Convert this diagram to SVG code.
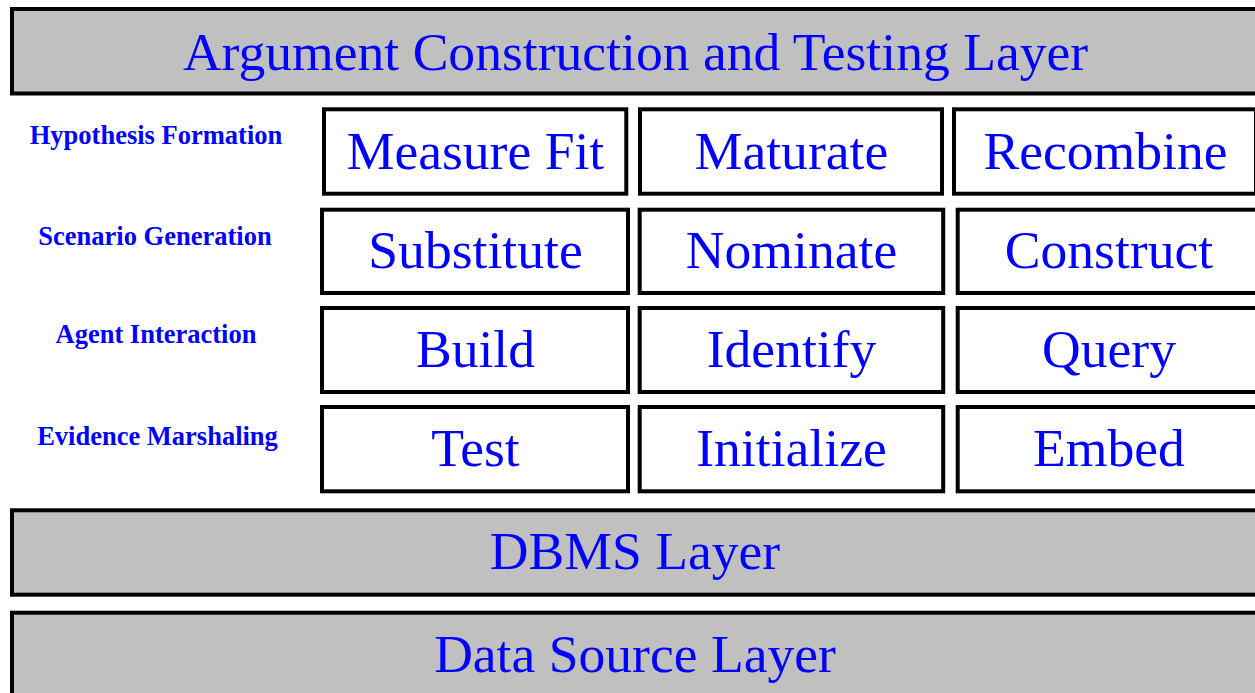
<svg xmlns="http://www.w3.org/2000/svg" width="1255" height="693" viewBox="0 0 1255 693">
<style>
.layer{fill:#c0c0c0;stroke:#000;stroke-width:4}
.cell{fill:#fff;stroke:#000;stroke-width:4}
.big{font-family:"Liberation Serif","Times New Roman",serif;font-size:53.6px;fill:#0000ff;text-anchor:middle}
.lbl{font-family:"Liberation Serif","Times New Roman",serif;font-size:26.5px;font-weight:bold;fill:#0000ff;text-anchor:middle}
</style>
<rect width="1255" height="693" fill="#fff"/>
<g id="layer-argument">
<rect class="layer" x="12" y="9" width="1260" height="84.5"/>
<text class="big" x="635.5" y="70">Argument Construction and Testing Layer</text>
</g>
<g id="label-hypothesis"><text class="lbl" x="156" y="144">Hypothesis Formation</text></g>
<g id="label-scenario"><text class="lbl" x="155" y="245">Scenario Generation</text></g>
<g id="label-agent"><text class="lbl" x="156" y="342.5">Agent Interaction</text></g>
<g id="label-evidence"><text class="lbl" x="157.5" y="445">Evidence Marshaling</text></g>
<g id="cell-measure-fit"><rect class="cell" x="324" y="109.3" width="302.3" height="84.4"/><text class="big" x="475.5" y="169">Measure Fit</text></g>
<g id="cell-maturate"><rect class="cell" x="640" y="109.3" width="302" height="84.4"/><text class="big" x="791.5" y="169">Maturate</text></g>
<g id="cell-recombine"><rect class="cell" x="954" y="109.3" width="302" height="84.4"/><text class="big" x="1105.5" y="169">Recombine</text></g>
<g id="cell-substitute"><rect class="cell" x="322" y="209.7" width="306" height="83.3"/><text class="big" x="475.5" y="268">Substitute</text></g>
<g id="cell-nominate"><rect class="cell" x="639.7" y="209.7" width="303.5" height="83.3"/><text class="big" x="791.5" y="268">Nominate</text></g>
<g id="cell-construct"><rect class="cell" x="957.7" y="209.7" width="302" height="83.3"/><text class="big" x="1109" y="268">Construct</text></g>
<g id="cell-build"><rect class="cell" x="322" y="308" width="306" height="84"/><text class="big" x="475.5" y="367.3">Build</text></g>
<g id="cell-identify"><rect class="cell" x="639.7" y="308" width="303.5" height="84"/><text class="big" x="791.5" y="367.3">Identify</text></g>
<g id="cell-query"><rect class="cell" x="957.7" y="308" width="302" height="84"/><text class="big" x="1109" y="367.3">Query</text></g>
<g id="cell-test"><rect class="cell" x="322" y="407" width="306" height="84.3"/><text class="big" x="475.5" y="465.5">Test</text></g>
<g id="cell-initialize"><rect class="cell" x="639.7" y="407" width="303.5" height="84.3"/><text class="big" x="791.5" y="465.5">Initialize</text></g>
<g id="cell-embed"><rect class="cell" x="957.7" y="407" width="302" height="84.3"/><text class="big" x="1109" y="465.5">Embed</text></g>
<g id="layer-dbms">
<rect class="layer" x="12" y="510.3" width="1260" height="84.4"/>
<text class="big" x="635" y="569.3">DBMS Layer</text>
</g>
<g id="layer-datasource">
<rect class="layer" x="12" y="612.7" width="1260" height="100"/>
<text class="big" x="635" y="671.7">Data Source Layer</text>
</g>
<g id="connectors"></g>
</svg>
